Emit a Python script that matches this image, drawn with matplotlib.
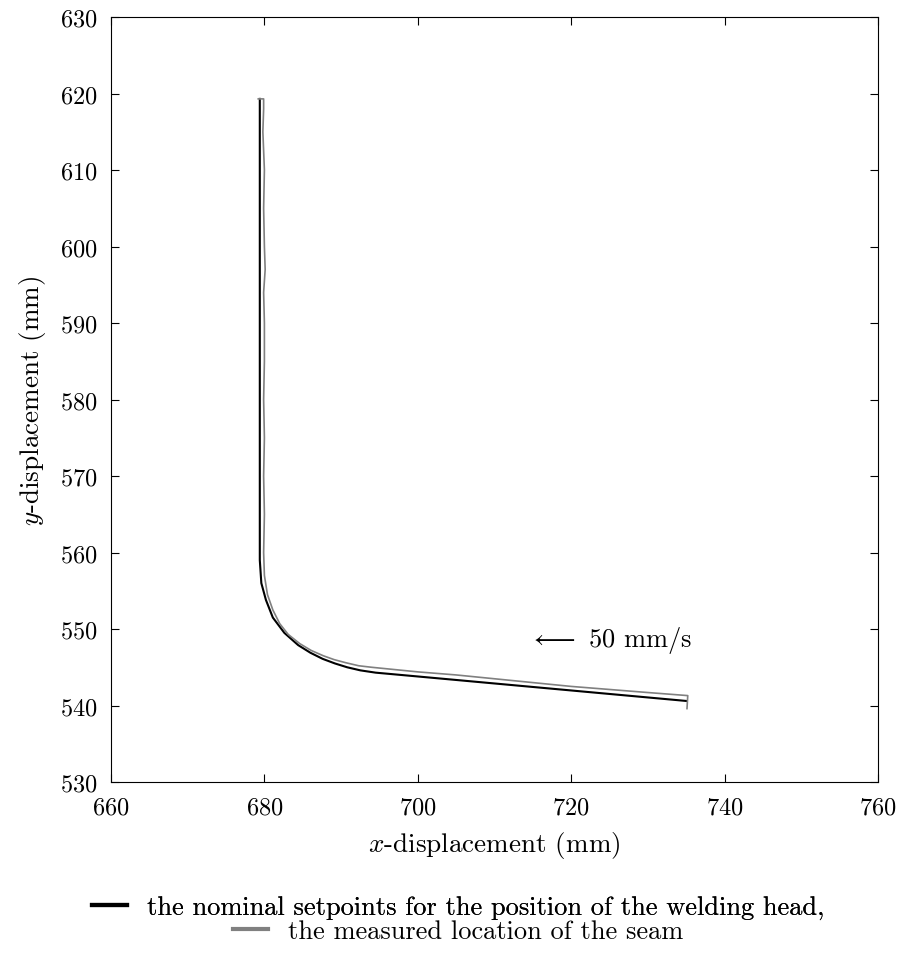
import matplotlib
matplotlib.use("Agg")
import matplotlib.pyplot as plt
from matplotlib.lines import Line2D

plt.rcParams["font.family"] = "serif"
plt.rcParams["font.serif"] = ["cmr10"]
plt.rcParams["mathtext.fontset"] = "cm"
plt.rcParams["axes.formatter.use_mathtext"] = True

# nominal setpoints of the welding head (mm)
nom_x = [679.4, 679.4, 679.6, 680.2, 681.1, 682.6, 684.4, 686.0, 687.6, 689.2,
         690.8, 692.5, 694.5, 700.0, 735.0]
nom_y = [619.3, 559.0, 556.0, 553.8, 551.5, 549.5, 547.9, 546.9, 546.1, 545.5,
         545.0, 544.6, 544.3, 543.8, 540.6]

# measured seam location (mm)
meas_x = [679.2, 679.9, 679.9, 679.8, 680.0, 679.9, 680.0, 680.1, 679.9, 680.0,
          680.0, 679.9, 680.0, 679.9, 680.0, 679.9, 680.0, 680.4, 681.1, 682.0,
          683.1, 684.6, 686.1, 687.7, 689.1, 690.6, 692.3, 694.0, 697.0, 700.0,
          705.0, 710.0, 715.0, 720.0, 725.0, 730.0, 735.2, 735.1]
meas_y = [619.3, 619.3, 618.0, 615.0, 610.0, 605.0, 600.0, 597.0, 594.0, 590.0,
          585.0, 580.0, 575.0, 570.0, 565.0, 560.0, 557.0, 554.5, 552.5, 550.7,
          549.3, 548.1, 547.2, 546.5, 546.0, 545.6, 545.2, 545.0, 544.7, 544.4,
          544.0, 543.5, 543.0, 542.5, 542.1, 541.7, 541.3, 539.6]

fig = plt.figure(figsize=(9.04, 9.54), dpi=100)
ax = fig.add_axes([0.1228, 0.1792, 0.8484, 0.8019])

ax.plot(nom_x, nom_y, color="black", lw=1.5)
ax.plot(meas_x, meas_y, color="#808080", lw=1.2)

ax.set_xlim(660, 760)
ax.set_ylim(530, 630)
ax.set_xticks(range(660, 761, 20))
ax.set_yticks(range(530, 631, 10))
ax.tick_params(direction="in", top=True, right=True, labelsize=17.5, length=6, pad=10)
ax.set_xlabel("$x$-displacement (mm)", fontsize=19.5, labelpad=8)
ax.set_ylabel("$y$-displacement (mm)", fontsize=19.5, labelpad=8)

ax.text(714.5, 548.6, r"$\longleftarrow$ 50 mm/s", fontsize=19, va="center")

h1 = Line2D([], [], color="black", lw=3)
h2 = Line2D([], [], color="#808080", lw=3)
leg1 = fig.legend([h1], ["the nominal setpoints for the position of the welding head,"],
                  loc="center", bbox_to_anchor=(0.507, 1 - 908 / 954), frameon=False,
                  fontsize=19, handlelength=1.33, borderpad=0, handletextpad=0.76)
leg2 = fig.legend([h2], ["the measured location of the seam"],
                  loc="center", bbox_to_anchor=(0.507, 1 - 932 / 954), frameon=False,
                  fontsize=19, handlelength=1.33, borderpad=0, handletextpad=0.76)
fig.add_artist(leg1)

fig.savefig("out.png", dpi=100)
